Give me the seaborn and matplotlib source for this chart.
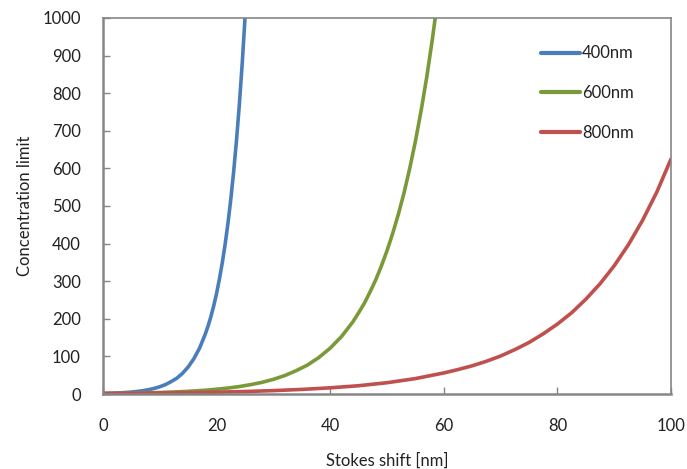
import matplotlib
matplotlib.use("Agg")
import matplotlib.pyplot as plt
import seaborn as sns
import pandas as pd

# Concentration limit versus Stokes shift for three excitation wavelengths
shift_400 = [0, 1, 2, 3, 4, 5, 6, 7, 8, 9, 10, 11, 12, 13, 14, 15, 16, 17, 18,
             18.5, 19, 19.5, 20, 20.5, 21, 21.5, 22, 22.5, 23, 23.5, 24, 24.5, 25, 26]
limit_400 = [1.4, 1.8, 2.4, 3.1, 4.0, 5.2, 6.7, 8.7, 11.4, 14.8, 19.3, 25, 33, 42, 55, 72, 94, 122, 159,
             181, 206, 235, 268, 306, 349, 398, 454, 518, 591, 674, 769, 877, 1000, 1300]

shift_600 = [0, 2, 4, 6, 8, 10, 12, 14, 16, 18, 20, 22, 24, 26, 28, 30,
             32, 34, 36, 38, 40, 42, 44, 45, 46, 47, 48, 49, 50, 51, 52, 53,
             54, 55, 56, 57, 58, 59, 60]
limit_600 = [1.3, 1.6, 2.0, 2.6, 3.2, 4.0, 5.1, 6.4, 8.0, 10.0, 12.6, 15.8, 19.8, 24.9, 31, 39,
             49, 62, 77, 97, 122, 153, 192, 216, 241, 271, 303, 340, 381, 427, 478, 535,
             600, 672, 753, 843, 945, 1058, 1186]

shift_800 = [0, 5, 10, 15, 20, 25, 30, 35, 40, 45, 50, 55, 60, 62.5, 65, 67.5, 70,
             72.5, 75, 77.5, 80, 82.5, 85, 87.5, 90, 92.5, 95, 97.5, 100]
limit_800 = [1.46, 2.0, 2.7, 3.6, 4.9, 6.6, 9.0, 12.2, 16.4, 22, 30, 41, 56, 65, 75, 87, 101,
             118, 137, 160, 186, 216, 252, 293, 341, 397, 462, 537, 625]

series_names = ["400nm", "600nm", "800nm"]
colors = ["#4A7EBB", "#7A9A3A", "#C0504D"]

x_ticks = [0, 20, 40, 60, 80, 100]
y_ticks = [0, 100, 200, 300, 400, 500, 600, 700, 800, 900, 1000]

frames = []
for name, xs, ys in zip(series_names,
                        [shift_400, shift_600, shift_800],
                        [limit_400, limit_600, limit_800]):
    frames.append(pd.DataFrame({"shift": xs, "limit": ys, "series": name}))
df = pd.concat(frames, ignore_index=True)

sns.set_theme(style="white")
plt.rcParams["font.family"] = ["Lato", "DejaVu Sans"]

fig = plt.figure(figsize=(6.87, 4.69), dpi=100)
ax = fig.add_axes([103 / 687, 75 / 469, 568 / 687, 376 / 469])

sns.lineplot(data=df, x="shift", y="limit", hue="series", hue_order=series_names,
             palette=colors, linewidth=2.6, ax=ax, legend=True, sort=False,
             estimator=None)

ax.set_xlim(0, 100)
ax.set_ylim(0, 1000)
ax.set_xticks(x_ticks)
ax.set_yticks(y_ticks)
ax.set_xticklabels([str(t) for t in x_ticks])
ax.set_yticklabels([str(t) for t in y_ticks])

text_color = "#222222"
ax.tick_params(axis="x", direction="in", length=5, width=1, color="#868686",
               labelsize=12, pad=17, labelcolor=text_color)
ax.tick_params(axis="y", direction="in", length=5, width=1, color="#868686",
               labelsize=12, pad=16, labelcolor=text_color)
ax.xaxis.set_ticks_position("bottom")
ax.yaxis.set_ticks_position("left")

for side in ["left", "bottom"]:
    ax.spines[side].set_color("#868686")
    ax.spines[side].set_linewidth(1.8)
for side in ["top", "right"]:
    ax.spines[side].set_color("#868686")
    ax.spines[side].set_linewidth(1.2)

ax.set_xlabel("Stokes shift [nm]", fontsize=12, color=text_color, labelpad=14)
ax.set_ylabel("Concentration limit", fontsize=12, color=text_color, labelpad=7)

leg = ax.legend(loc="upper left", bbox_to_anchor=(0.76, 0.945), frameon=False,
                fontsize=12, handlelength=2.3, handletextpad=0.15,
                labelspacing=1.42, borderaxespad=0)
for t in leg.get_texts():
    t.set_color(text_color)
for h in leg.legend_handles:
    h.set_linewidth(3)

fig.savefig("out.png", dpi=100)
